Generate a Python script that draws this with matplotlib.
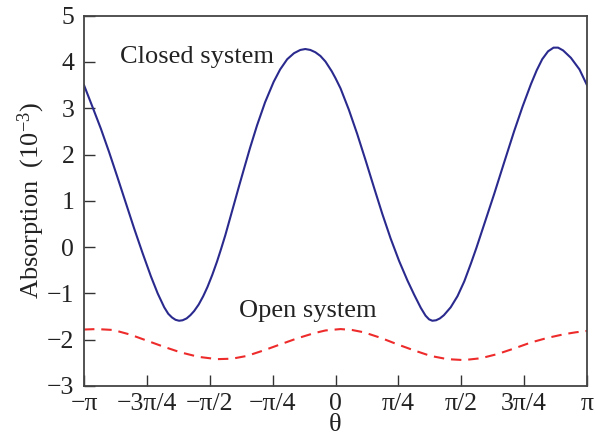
import numpy as np
import matplotlib
matplotlib.use("Agg")
import matplotlib.pyplot as plt

plt.rcParams['font.family'] = ['Liberation Serif', 'DejaVu Serif']
plt.rcParams['mathtext.fontset'] = 'custom'
plt.rcParams['mathtext.rm'] = 'Liberation Serif'
plt.rcParams['mathtext.it'] = 'Liberation Serif:italic'

# theta in units of pi
closed_x = [-1.000, -0.967, -0.933, -0.900, -0.867, -0.834, -0.801, -0.767, -0.734, -0.707,
            -0.681, -0.665, -0.650, -0.636, -0.622, -0.608, -0.592, -0.577, -0.562, -0.544,
            -0.526, -0.509, -0.490, -0.471, -0.455, -0.438, -0.422, -0.405, -0.385, -0.365,
            -0.340, -0.312, -0.280, -0.246, -0.220, -0.192, -0.165, -0.140, -0.120, -0.100,
            -0.080, -0.060, -0.040, -0.015, 0.000, 0.020, 0.053, 0.086, 0.120, 0.153,
            0.186, 0.219, 0.253, 0.286, 0.313, 0.339, 0.358, 0.372, 0.385, 0.400,
            0.415, 0.431, 0.458, 0.485, 0.512, 0.538, 0.560, 0.591, 0.631, 0.670,
            0.710, 0.744, 0.777, 0.800, 0.822, 0.845, 0.867, 0.885, 0.905, 0.936,
            0.970, 1.000]
closed_y = [3.50, 3.04, 2.56, 2.05, 1.51, 0.96, 0.41, -0.13, -0.63, -1.00,
            -1.30, -1.44, -1.52, -1.57, -1.59, -1.58, -1.54, -1.47, -1.38, -1.24,
            -1.06, -0.86, -0.60, -0.31, -0.04, 0.26, 0.57, 0.90, 1.29, 1.67,
            2.14, 2.63, 3.13, 3.57, 3.84, 4.06, 4.19, 4.26, 4.28, 4.26,
            4.21, 4.13, 4.01, 3.80, 3.65, 3.43, 2.97, 2.45, 1.87, 1.29,
            0.72, 0.19, -0.30, -0.72, -1.03, -1.31, -1.48, -1.56, -1.59, -1.58,
            -1.54, -1.47, -1.30, -1.06, -0.74, -0.36, -0.02, 0.49, 1.15, 1.82,
            2.50, 3.04, 3.52, 3.82, 4.06, 4.23, 4.31, 4.31, 4.25, 4.09,
            3.84, 3.50]

open_x = [-1.0, -0.95, -0.883, -0.816, -0.750, -0.684, -0.618, -0.545, -0.471, -0.411,
          -0.352, -0.285, -0.219, -0.152, -0.086, -0.040, 0.020, 0.066, 0.113, 0.180,
          0.246, 0.312, 0.378, 0.445, 0.511, 0.578, 0.644, 0.710, 0.777, 0.843,
          0.910, 0.955, 1.0]
open_y = [-1.78, -1.77, -1.79, -1.89, -2.02, -2.15, -2.27, -2.37, -2.42, -2.41,
          -2.35, -2.23, -2.10, -1.97, -1.86, -1.80, -1.77, -1.79, -1.84, -1.96,
          -2.10, -2.23, -2.35, -2.42, -2.44, -2.40, -2.31, -2.19, -2.06, -1.96,
          -1.88, -1.84, -1.81]

xtick_labels = ['\u2212\u03c0', '\u22123\u03c0/4', '\u2212\u03c0/2', '\u2212\u03c0/4', '0',
                '\u03c0/4', '\u03c0/2', '3\u03c0/4', '\u03c0']
xtick_vals = [-1, -0.75, -0.5, -0.25, 0, 0.25, 0.5, 0.75, 1]
ytick_vals = [-3, -2, -1, 0, 1, 2, 3, 4, 5]

W, H = 595, 443
fig = plt.figure(figsize=(W / 100, H / 100), dpi=100)
ax = fig.add_axes([84 / W, 1 - 386 / H, (587 - 84) / W, (386 - 15.7) / H])

ax.plot(np.array(closed_x) * np.pi, closed_y, color='#2a2a8e', lw=1.5)
ax.plot(np.array(open_x) * np.pi, open_y, color='#ee2b2b', lw=1.5, ls=(0, (5.0, 3.3)))

ax.set_xlim(-np.pi, np.pi)
ax.set_ylim(-3, 5)
ax.set_xticks(np.array(xtick_vals) * np.pi)
ax.set_xticklabels(xtick_labels)
ax.set_yticks(ytick_vals)
ax.set_yticklabels([str(v).replace('-', '\u2212') for v in ytick_vals])
ax.tick_params(direction='in', length=8, width=1.0, color='#333333', labelsize=18.5,
               labelcolor='#222222')
ax.tick_params(axis='x', pad=5)
ax.tick_params(axis='y', pad=7)
for s in ax.spines.values():
    s.set_color('#444444')
    s.set_linewidth(1.3)

ax.set_xlabel('\u03b8', fontsize=19, color='#222222', labelpad=-1)
ax.set_ylabel('Absorption  (10$^{\u22123}$)', fontsize=19, color='#222222', labelpad=0)

fig.text(120 / W, 1 - 63.5 / H, 'Closed system', fontsize=19, color='#222222', va='baseline')
fig.text(239 / W, 1 - 317 / H, 'Open system', fontsize=19, color='#222222', va='baseline')

fig.savefig('out.png', dpi=100)
